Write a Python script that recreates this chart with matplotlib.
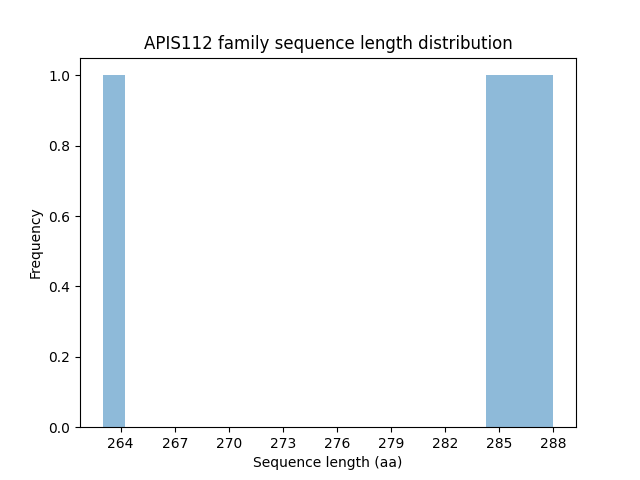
import matplotlib
matplotlib.use("Agg")
from matplotlib import pyplot as plt

# sequence lengths (aa) of the family members
lengths = [263, 285, 286, 288]
n_bins = 20
tick_positions = list(range(264, 289, 3))

fig, ax = plt.subplots(figsize=(6.4, 4.8), dpi=100)
ax.hist(lengths, bins=n_bins, alpha=0.5)
ax.set_xticks(tick_positions)
ax.set_title("APIS112 family sequence length distribution")
ax.set_xlabel("Sequence length (aa)")
ax.set_ylabel("Frequency")

fig.savefig("out.png")
